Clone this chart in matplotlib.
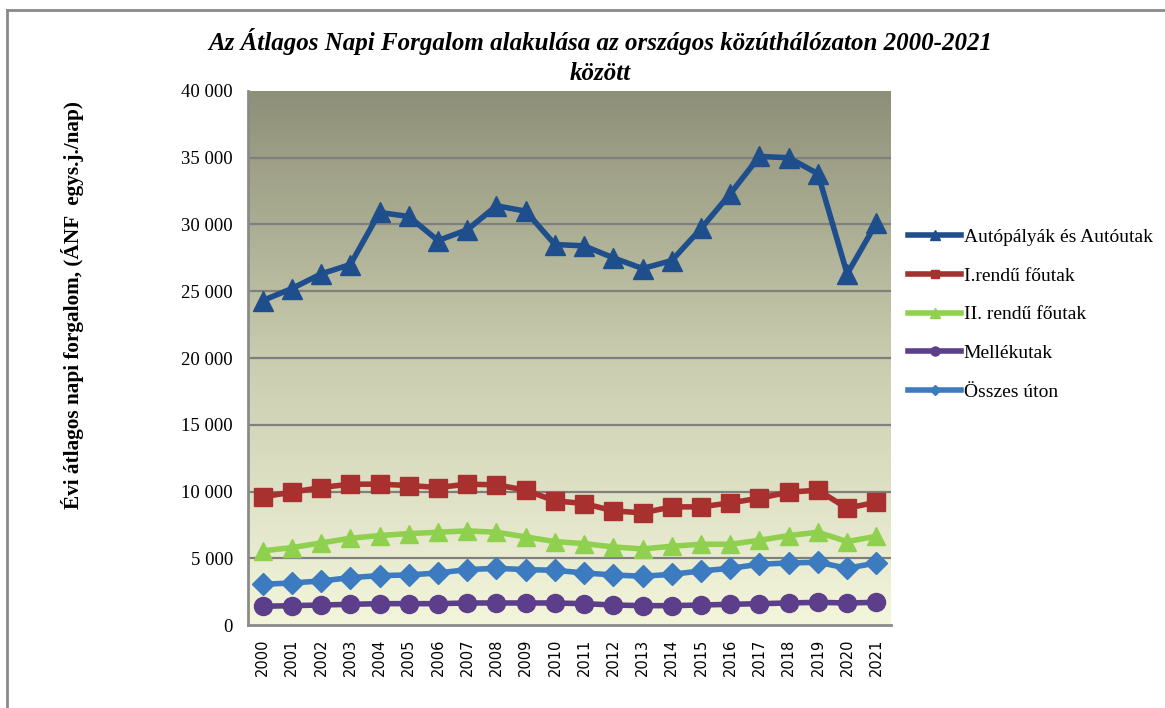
import numpy as np
import matplotlib
matplotlib.use("Agg")
import matplotlib.pyplot as plt
from matplotlib.colors import LinearSegmentedColormap
from matplotlib.lines import Line2D

years = [str(y) for y in range(2000, 2022)]

autopalyak = [24300, 25200, 26300, 27000, 30900, 30600, 28800, 29600, 31400, 31000,
              28500, 28400, 27500, 26700, 27300, 29700, 32300, 35100, 35000, 33800,
              26300, 30100]
elsorendu = [9600, 9950, 10300, 10550, 10550, 10450, 10300, 10550, 10500, 10100,
             9300, 9100, 8550, 8400, 8850, 8850, 9150, 9500, 9950, 10100,
             8750, 9200]
masodrendu = [5550, 5800, 6150, 6500, 6700, 6850, 6950, 7050, 6950, 6600,
              6250, 6100, 5850, 5700, 5900, 6050, 6050, 6350, 6700, 6950,
              6250, 6650]
mellekutak = [1400, 1450, 1500, 1550, 1600, 1600, 1600, 1650, 1650, 1650,
              1650, 1600, 1500, 1450, 1450, 1500, 1550, 1600, 1650, 1700,
              1650, 1700]
osszes = [3050, 3150, 3300, 3550, 3700, 3750, 3900, 4150, 4250, 4150,
          4100, 3900, 3750, 3650, 3800, 4050, 4250, 4550, 4650, 4700,
          4250, 4650]

series = [
    ("Autópályák és Autóutak", autopalyak, "#1F4E8C", "^", 14),
    ("I.rendű főutak", elsorendu, "#A8302E", "s", 12.5),
    ("II. rendű főutak", masodrendu, "#8FD14F", "^", 13),
    ("Mellékutak", mellekutak, "#5C3E8A", "o", 13),
    ("Összes úton", osszes, "#3C7BC0", "D", 11),
]

serif = ["Liberation Serif", "DejaVu Serif"]

fig = plt.figure(figsize=(11.65, 7.08), dpi=100)
ax = fig.add_axes([0.2129, 0.1172, 0.5519, 0.7543])

# outer frame of the original chart object
fig.add_artist(Line2D([0.006, 0.006], [0.0, 0.986], color="#8a8a8a", lw=2,
                      transform=fig.transFigure))
fig.add_artist(Line2D([0.006, 1.0], [0.986, 0.986], color="#8a8a8a", lw=2,
                      transform=fig.transFigure))

# gradient background of plot area
cmap = LinearSegmentedColormap.from_list("bg", ["#f4f6dc", "#c9ccae", "#8e8f78"])
grad = np.linspace(0, 1, 256).reshape(-1, 1)
ax.imshow(grad, cmap=cmap, aspect="auto", origin="lower",
          extent=[0, 1, 0, 1], transform=ax.transAxes, zorder=0)

x = np.arange(len(years))
for name, vals, col, mk, ms in series:
    ax.plot(x, vals, color=col, lw=4, marker=mk, markersize=ms,
            markeredgecolor=col, label=name, zorder=3)

ax.set_xlim(-0.5, len(years) - 0.5)
ax.set_ylim(0, 40000)
ax.set_yticks(range(0, 40001, 5000))
ax.set_yticklabels([f"{v:,}".replace(",", " ") for v in range(0, 40001, 5000)],
                   fontfamily=serif, fontsize=13.5)
ax.set_xticks(x)
ax.set_xticklabels(years, rotation=90, fontsize=10.5, fontfamily="DejaVu Sans")
ax.tick_params(length=0)
ax.tick_params(axis="y", pad=11)
ax.tick_params(axis="x", pad=10)

for v in range(5000, 40000, 5000):
    ax.axhline(v, color="#7f7f7f", lw=1.6, zorder=1)

for s in ("top", "right"):
    ax.spines[s].set_visible(False)
for s in ("left", "bottom"):
    ax.spines[s].set_color("#8a8a8a")
    ax.spines[s].set_linewidth(2)

ax.set_ylabel("Évi átlagos napi forgalom, (ÁNF  egys.j./nap)", fontfamily=serif,
              fontsize=15.3, fontweight="bold")
ax.yaxis.set_label_coords(-0.255, 0.60)

fig.text(0.515, 0.920, "Az Átlagos Napi Forgalom alakulása az országos közúthálózaton 2000-2021\nközött",
         ha="center", va="center", fontfamily=serif, fontsize=18,
         fontweight="bold", fontstyle="italic", linespacing=1.38)

leg = ax.legend(loc="upper left", bbox_to_anchor=(1.015, 0.757), frameon=False,
                prop={"family": serif, "size": 14}, handlelength=2.7,
                handletextpad=0.15, labelspacing=1.08, markerscale=0.5,
                borderaxespad=0)
for h in leg.get_lines():
    h.set_linewidth(4)

fig.savefig("out.png", dpi=100)
